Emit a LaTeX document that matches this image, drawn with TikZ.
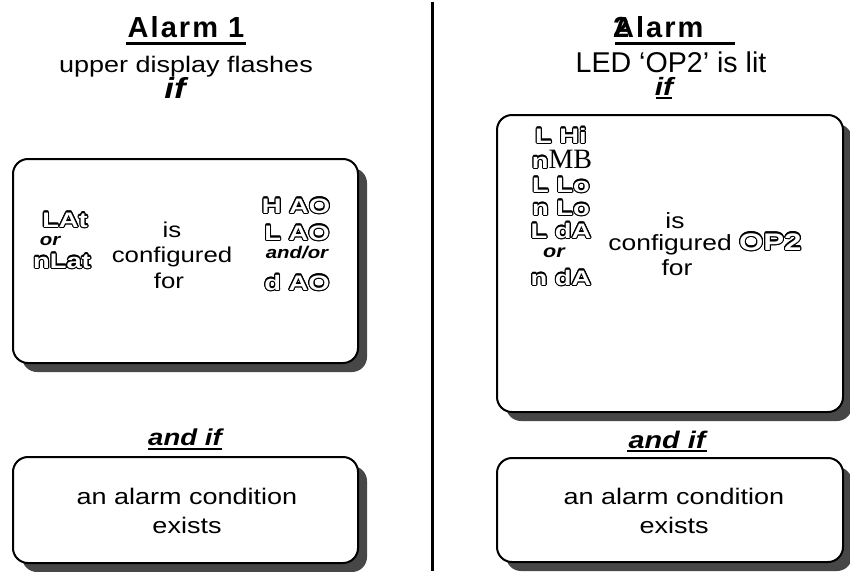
\documentclass[tikz,border=0pt]{standalone}
\usepackage{fontspec}
\setmainfont{Liberation Sans}[FakeStretch=1.2]
\newfontfamily\plainfont{Liberation Sans}
\newfontfamily\headfont{Liberation Sans}[LetterSpace=7]
\newfontfamily\segfont{Liberation Sans}[FakeStretch=1.3]
\newfontfamily\mbfont{Liberation Serif}
\usepackage[copies]{contour}
\contourlength{1.1pt}
\usetikzlibrary{shadows}
\newcommand{\fs}[1]{\fontsize{#1}{#1}\selectfont}
\newcommand{\segtxt}[2][21]{{\segfont\bfseries\fontsize{#1}{#1}\selectfont\textcolor{white}{\contour{black}{#2}}}}
\begin{document}
\begin{tikzpicture}[x=1pt,y=-1pt,
  txt/.style={inner sep=0pt, anchor=base},
  body/.style={txt, font=\fs{22.5}},
  head/.style={txt, font=\headfont\bfseries\fs{29}},
  bi/.style={txt, font=\bfseries\itshape\fs{#1}},
  uline/.style={line width=2pt},
  box/.style={draw, line width=2pt, rounded corners=15pt, fill=white,
    drop shadow={shadow xshift=9pt, shadow yshift=-9pt, opacity=1, fill=black!72}}]
\useasboundingbox (0,0) rectangle (850,571);

% ---------- left column ----------
\node[head] (t1) at (186,37) {Alarm 1};
\draw[line width=3pt] (126,43.5) -- (246,43.5);
\node[body] (s1) at (186,72) {upper display flashes};
\node[bi=29] (if1) at (175,98) {if};

\node[box, minimum width=345pt, minimum height=204pt] (b1) at (185.5,261) {};
\node[txt] (lat) at (65,227) {\segtxt{LAt}};
\node[bi=17] (or1) at (50,245) {or};
\node[txt] (nlat) at (62,268) {\segtxt{nLat}};
\node[body, font=\fs{21.5}] (is1) at (172,237) {is};
\node[body, font=\fs{21.5}] (cf1) at (172,262) {configured};
\node[body, font=\fs{21.5}] (for1) at (169,288) {for};
\node[txt] (hao) at (296,213) {\segtxt{H AO}};
\node[txt] (lao) at (297,240) {\segtxt{L AO}};
\node[bi=17] (andor) at (297,258) {and/or};
\node[txt] (dao) at (297,290) {\segtxt{d AO}};

\node[bi=23] (ai1) at (185,445) {and if};
\draw[uline] (148,448.5) -- (222,448.5);
\node[box, minimum width=345pt, minimum height=106pt] (b2) at (185.5,510) {};
\node[body] (ac1) at (187,504) {an alarm condition};
\node[body] (ex1) at (187,533) {exists};

% ---------- divider ----------
\coordinate (dtop) at (432.5,2);
\coordinate (dbot) at (432.5,571);
\draw[line width=3pt] (dtop) -- (dbot);

% ---------- right column ----------
\node[head, anchor=base west] (t2) at (613,37) {\rlap{2}Alarm};
\draw[line width=3pt] (615,43.5) -- (735,43.5);
\node[txt, font=\plainfont\fs{28.6}] (s2) at (671,72) {LED ‘OP2’ is lit};
\node[bi=25] (if2) at (664,95) {if};
\draw[uline] (656,97.5) -- (672,97.5);

\node[box, minimum width=346pt, minimum height=297pt] (b3) at (670,263.5) {};
\node[txt] (lhi) at (561,143) {\segtxt{L Hi}};
\node[txt] (nmb) at (562,168) {\segtxt{n}{\mbfont\fs{28}MB}};
\node[txt] (llo) at (561,192) {\segtxt{L Lo}};
\node[txt] (nlo) at (561,215) {\segtxt{n Lo}};
\node[txt] (lda) at (561,238) {\segtxt{L dA}};
\node[bi=18] (or2) at (554,257) {or};
\node[txt] (nda) at (561,285) {\segtxt{n dA}};
\node[body, font=\fs{22}] (is2) at (675,228) {is};
\node[body, font=\fs{22}] (cf2) at (705,250) {configured \segtxt[24]{OP2}};
\node[body, font=\fs{22}] (for2) at (677,275) {for};

\node[bi=24] (ai2) at (667,448) {and if};
\draw[uline] (627,450.5) -- (707,450.5);
\node[box, minimum width=346pt, minimum height=104pt] (b4) at (670,510) {};
\node[body] (ac2) at (674,504) {an alarm condition};
\node[body] (ex2) at (674,533) {exists};
\end{tikzpicture}
\end{document}
